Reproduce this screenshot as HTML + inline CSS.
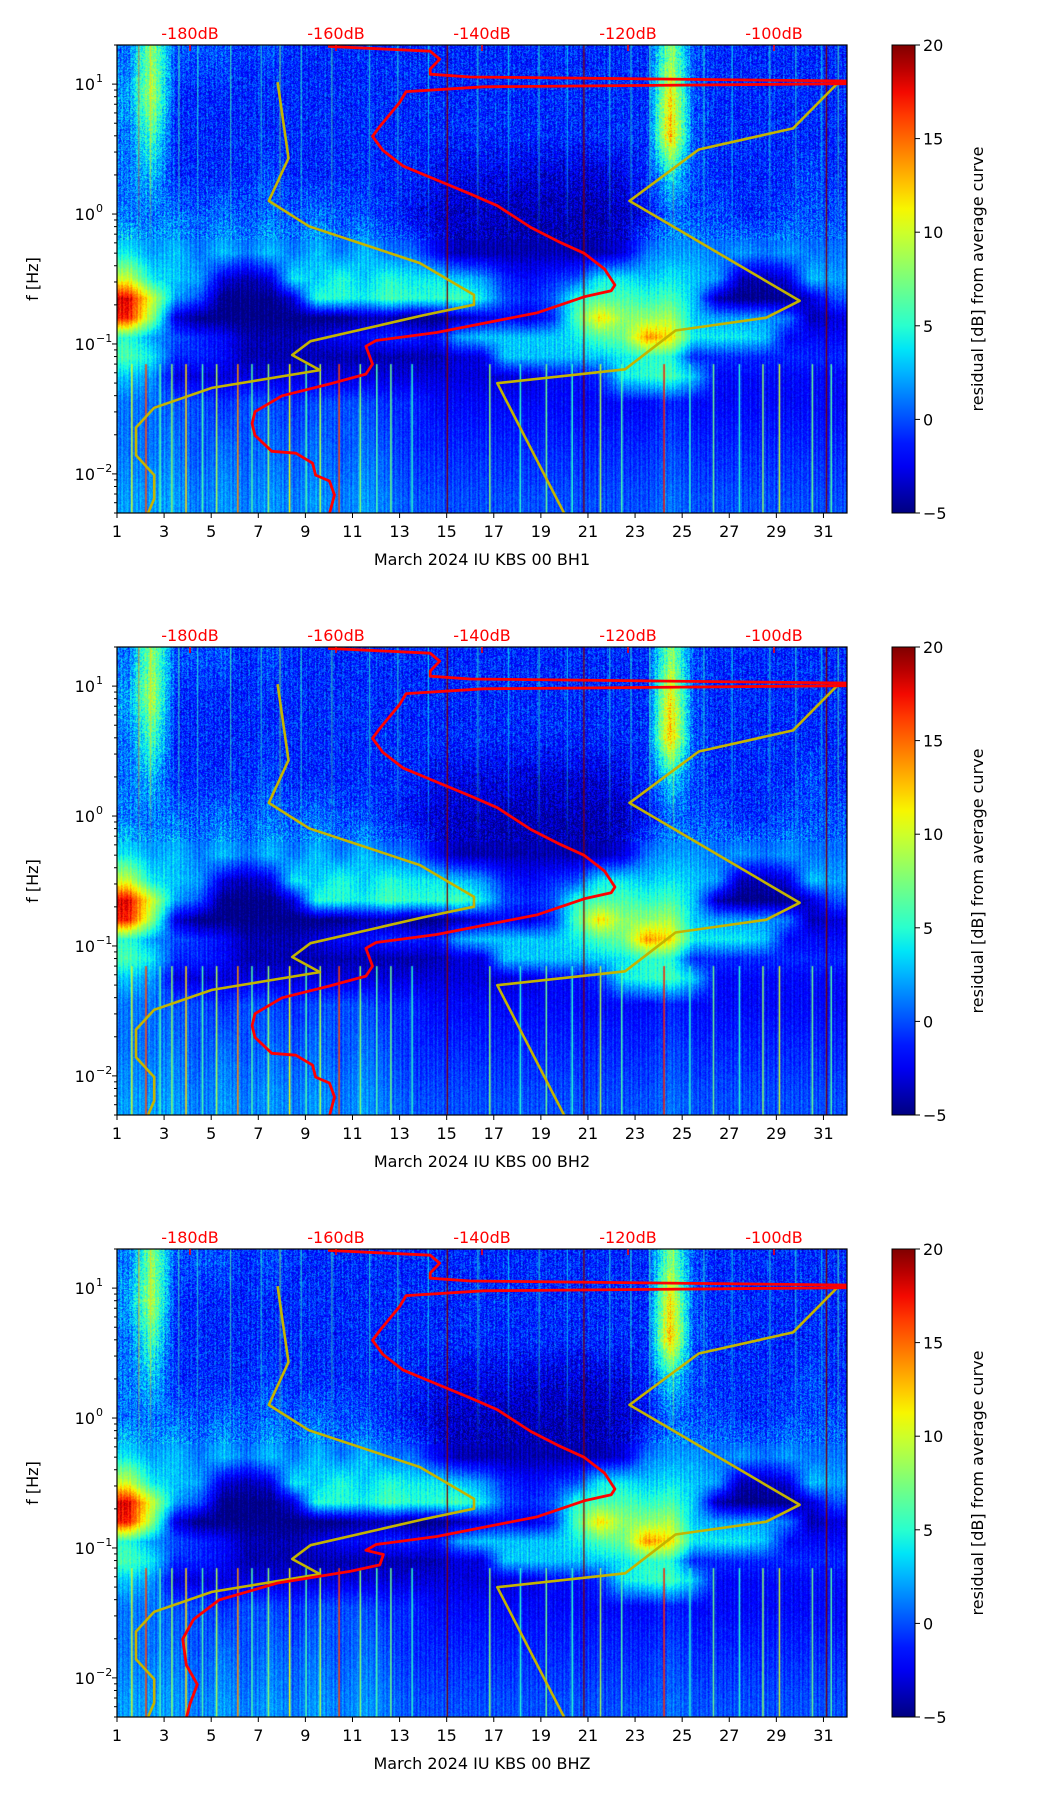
<!DOCTYPE html>
<html><head><meta charset="utf-8">
<style>
body{margin:0;background:#fff;width:1052px;height:1806px;overflow:hidden;position:relative;font-family:"DejaVu Sans","Liberation Sans",sans-serif;}
canvas{position:absolute;}
svg{position:absolute;left:0;top:0;}
</style></head>
<body>
<svg id="fig" width="1052" height="1806"></svg>
<script>
// ---- data ----
const panelTitles = ["March 2024 IU KBS 00 BH1","March 2024 IU KBS 00 BH2","March 2024 IU KBS 00 BHZ"];
const dayTicks = [1,3,5,7,9,11,13,15,17,19,21,23,25,27,29,31];
const dbTicks = [-180,-160,-140,-120,-100];
const cbTicks = [-5,0,5,10,15,20];
const yTickExp = [1,0,-1,-2];
// heatmap rows: log10(f) centers
const rowLogf = [1.2,0.9,0.6,0.3,0.0,-0.3,-0.5,-0.65,-0.8,-0.95,-1.1,-1.25,-1.45,-1.8,-2.2];
// residual dB values, day 1..31
const r0=[1,8,0,0,0,-1,0,-1,-1,-1,-1,-1,-1,-1,-1,-1,-1,-1,-1,-1,-1,-1,-1,8,0,-1,-1,-1,-1,-1,-1];
const r1=[2,9,-1,-1,-1,-1,-1,-1,-1,-1,-1,-1,-1,-1,-1,-1,-1,-1,-1,-1,-1,-1,-1,12,0,-1,-1,-1,-1,-1,-1];
const r2=[1,6,-1,-1,-1,-1,-1,-1,-1,-1,-1,-1,-1,-1,-1,-1,-1,-1,-1,-1,-1,-1,-1,13,0,-1,-1,-1,-1,-1,-1];
const r3=[1,3,-1,-1,-1,-1,0,-1,-1,-1,-1,-1,-1,-2,-2.5,-2.5,-2.5,-3,-3,-3,-3,-2.5,-1,4,0,-1,-1,-1,-1,0,-1];
const r4=[1,1,1,0,1,0,1,0,1,0,0,-1,-2,-3,-3.5,-3.5,-4,-4,-4,-4,-4,-3.5,-2,1,0,0,-1,-1,0,0,0];
const r5=[4,2,3,1,3,1,3,1,3,1,3,1,1,-2,-4,-4,-4,-4,-4,-4,-4,-3,1,2,2,1,2,1,2,1,1];
const r6=[10,4,3,2,-3,-4,-3,4,3,5,3,5,4,4,3,2,-1,-2,-1,0,4,4,3,4,3,2,-4,-4,-3,3,2];
const r7=[18,10,2,0,-5,-5,-5,-3,5,5,4,6,5,5,6,4,0,-1,0,5,6,6,5,6,3,-4,-5,-5,-5,-3,0];
const r8=[17,8,-3,-5,-5,-5,-5,-5,-5,-5,-4,-4,-5,-5,-4,-3,-2,-3,-1,6,12,8,8,9,3,2,2,2,1,-4,-3];
const r9=[5,2,0,-1,-2,-4,-4,-4,-3,-2,-2,-1,-1,-2,2,3,3,3,3,4,6,7,14,12,4,4,4,3,-2,-2,-2];
const r10=[6,4,-1,-1,-2,-4,-4,-4,-4,-4,-4,-4,-4,-4,-3,-3,3,3,3,3,3,4,5,5,-1,-1,-1,-1,-1,-1,-1];
const r11=[3,2,-3,-3,-3,-3,-3,-3,-3,-3,-3,-3,-3,-3,-3,-3,-3,-3,-2,-2,-1,4,5,6,3,-2,-2,-2,-2,-2,-2];
const r12=[1,1,0,0,-1,0,0,-1,0,0,0,-1,-1,-2,-2,-2,-2,-2,-2,-2,-2,-2,-2,-1,-2,-2,-2,-2,-2,-2,-2];
const r13=[1,1,1,0,1,0,1,0,1,0,1,0,-1,-1,-1,-1,-1,-1,-1,-1,-1,-1,-1,0,-1,-1,-1,-1,-1,-1,-1];
const r14=[2,2,2,1,2,1,2,1,2,1,2,1,0,0,0,0,0,0,0,0,0,0,0,1,0,0,0,0,0,0,0];
const grid=[r0,r1,r2,r3,r4,r5,r6,r7,r8,r9,r10,r11,r12,r13,r14];
// thin low-frequency streaks
const streakDays=[1.6,2.2,2.8,3.3,3.9,4.6,5.2,6.1,6.7,7.4,8.3,9.0,9.6,10.4,11.3,12.0,12.6,13.5,16.8,18.1,19.2,20.3,21.5,22.4,24.2,25.3,26.3,27.4,28.4,29.1,30.5,31.3];
const streakVals=[10,16,6,8,12,6,9,14,6,8,11,6,9,16,8,6,7,5,8,5,7,5,9,6,17,5,7,5,8,10,7,6];
// thin high-frequency streaks
const upperDays=[1.9,2.4,3.6,4.4,5.8,7.1,7.9,8.8,10.1,11.7,12.9,14.2,16.3,17.6,18.9,20.1,21.9,22.8,23.6,24.6,25.9,27.1,28.7,29.8,30.9,31.6];
const upperVals=[14,12,6,5,6,5,8,5,6,5,5,4,5,4,5,4,5,5,6,10,5,4,5,5,4,6];
const darkLineDays=[15.0,20.8,31.1];
// low noise model (dB, log10 f)
const nlnmDb=[-168.0,-166.5,-169.2,-163.7,-148.5,-141.1,-141.1,-148.1,-163.5,-166.0,-162.2,-177.0,-184.9,-187.4,-187.4,-184.9,-184.9,-185.8];
const nlnmLogf=[1.015,0.430,0.101,-0.094,-0.378,-0.622,-0.698,-0.780,-0.979,-1.085,-1.201,-1.338,-1.491,-1.643,-1.857,-2.009,-2.192,-2.308];
// high noise model
const nhnmDb=[-91.4,-97.4,-110.3,-119.8,-96.5,-101.1,-113.5,-120.4,-137.9,-128.7];
const nhnmLogf=[1.0,0.659,0.497,0.101,-0.668,-0.799,-0.896,-1.195,-1.302,-2.308];
// average curve (BH1/BH2)
const avgDb=[-161.1,-147.1,-145.8,-147.1,-147.1,-141.6,-90.06,-90.06,-139.8,-150.4,-151.3,-153.1,-154.0,-155.0,-153.6,-150.8,-146.2,-141.6,-137.9,-133.3,-129.6,-126.0,-123.2,-121.8,-122.3,-126.0,-132.4,-146.2,-154.5,-155.9,-155.0,-155.9,-160.9,-167.4,-171.1,-171.5,-171.1,-168.8,-165.5,-163.2,-162.8,-160.9,-160.2,-160.9];
const avgLogf=[1.290,1.253,1.192,1.116,1.076,1.055,1.024,1.003,0.979,0.942,0.857,0.735,0.674,0.598,0.491,0.369,0.262,0.155,0.064,-0.104,-0.210,-0.302,-0.424,-0.546,-0.591,-0.637,-0.759,-0.912,-0.973,-1.018,-1.155,-1.232,-1.308,-1.399,-1.521,-1.613,-1.704,-1.826,-1.841,-1.918,-2.009,-2.055,-2.162,-2.308];
// average curve (BHZ)
const avgZDb=[-161.1,-147.1,-145.8,-147.1,-147.1,-141.6,-90.06,-90.06,-139.8,-150.4,-151.3,-153.1,-154.0,-155.0,-153.6,-150.8,-146.2,-141.6,-137.9,-133.3,-129.6,-126.0,-123.2,-121.8,-122.3,-126.0,-132.4,-146.2,-154.5,-155.9,-153.5,-154.0,-158.0,-168.0,-176.0,-179.5,-181.0,-180.5,-179.0,-180.0,-180.5];
const avgZLogf=[1.290,1.253,1.192,1.116,1.076,1.055,1.024,1.003,0.979,0.942,0.857,0.735,0.674,0.598,0.491,0.369,0.262,0.155,0.064,-0.104,-0.210,-0.302,-0.424,-0.546,-0.591,-0.637,-0.759,-0.912,-0.973,-1.018,-1.05,-1.13,-1.18,-1.27,-1.4,-1.55,-1.7,-1.9,-2.05,-2.2,-2.31];

// ---- layout ----
const L=117,R=847,H=468,panelTops=[45,647,1249];
const W=R-L;
const LMAX=Math.log10(20),LMIN=Math.log10(0.005);
const dayX=d=>L+(d-1)/31*W;
const dbX=db=>L+(db+190)/100*W;
const yOf=(top,lf)=>top+(LMAX-lf)/(LMAX-LMIN)*H;
function lerp(pts,t){for(let i=0;i<pts.length-1;i++){if(t<=pts[i+1][0]){const a=pts[i],b=pts[i+1];const u=(t-a[0])/(b[0]-a[0]);return a[1]+u*(b[1]-a[1]);}}return pts[pts.length-1][1];}
const JR=[[0,0],[0.35,0],[0.66,1],[0.89,1],[1,0.5]];
const JG=[[0,0],[0.125,0],[0.375,1],[0.64,1],[0.91,0],[1,0]];
const JB=[[0,0.5],[0.11,1],[0.34,1],[0.65,0],[1,0]];
function jet(v){let t=(v+5)/25;t=Math.max(0,Math.min(1,t));return [lerp(JR,t)*255,lerp(JG,t)*255,lerp(JB,t)*255].map(Math.round);}
const NS="http://www.w3.org/2000/svg";
const svg=document.getElementById('fig');
function el(tag,attrs,parent){const e=document.createElementNS(NS,tag);for(const k in attrs)e.setAttribute(k,attrs[k]);(parent||svg).appendChild(e);return e;}

function sample(day,lf){
  let c=day-1.5;c=Math.max(0,Math.min(30,c));const c0=Math.floor(c),c1=Math.min(30,c0+1),cu=c-c0;
  let i=0;while(i<rowLogf.length-2&&lf<rowLogf[i+1])i++;
  let ru=(rowLogf[i]-lf)/(rowLogf[i]-rowLogf[i+1]);ru=Math.max(0,Math.min(1,ru));
  const a=grid[i][c0]*(1-cu)+grid[i][c1]*cu;
  const b=grid[i+1][c0]*(1-cu)+grid[i+1][c1]*cu;
  return a*(1-ru)+b*ru;
}
function hash(x,y){let h=(x*374761393+y*668265263)|0;h=(h^(h>>>13))*1274126177|0;return ((h^(h>>>16))>>>0)/4294967295;}

panelTops.forEach((top,p)=>{
  const cv=document.createElement('canvas');
  cv.width=W;cv.height=H;cv.style.left=L+'px';cv.style.top=top+'px';
  
  
  document.body.insertBefore(cv,svg);
  const ctx=cv.getContext('2d');
  const img=ctx.createImageData(W,H);
  for(let y=0;y<H;y++){const lf=LMAX-(y+0.5)/H*(LMAX-LMIN);
    const speck=lf>-0.2?2.2:0.8;
    for(let x=0;x<W;x++){const d=1+(x+0.5)/W*31;
      const tex=Math.sin(x*1.7+p)*Math.sin(x*0.37)*1.2+(hash(x,y+p*999)-0.5)*speck*2;
      const [r,g,b]=jet(sample(d,lf)+tex);const k=(y*W+x)*4;
      img.data[k]=r;img.data[k+1]=g;img.data[k+2]=b;img.data[k+3]=255;}}
  ctx.putImageData(img,0,0);
  streakDays.forEach((d,i)=>{const [r,g,b]=jet(streakVals[i]);ctx.fillStyle=`rgb(${r},${g},${b})`;
    const x=dayX(d)-L;const y0=yOf(0,Math.log10(0.07));ctx.fillRect(x,y0,1.5,H-y0);});
  const y1=yOf(0,Math.log10(0.5));
  upperDays.forEach((d,i)=>{const [r,g,b]=jet(upperVals[i]);
    const gr=ctx.createLinearGradient(0,0,0,y1);
    gr.addColorStop(0,`rgba(${r},${g},${b},0.75)`);gr.addColorStop(0.6,`rgba(${r},${g},${b},0.5)`);gr.addColorStop(1,`rgba(${r},${g},${b},0)`);
    ctx.fillStyle=gr;const x=dayX(d)-L;ctx.fillRect(x,0,1.2,y1);});
  darkLineDays.forEach(d=>{ctx.fillStyle='#800000';ctx.fillRect(dayX(d)-L,0,1.3,H);});

  const g=el('g',{});
  
  
  const clipId='clip'+p;
  const cp=el('clipPath',{id:clipId},g);el('rect',{x:L,y:top,width:W,height:H},cp);
  function poly(dbs,lfs,color,w,name){
    const pts=dbs.map((db,i)=>dbX(db).toFixed(1)+','+yOf(top,lfs[i]).toFixed(1)).join(' ');
    const pl=el('polyline',{points:pts,fill:'none',stroke:color,'stroke-width':w,'stroke-linejoin':'round','clip-path':`url(#${clipId})`},g);
    
    
  }
  poly(nlnmDb,nlnmLogf,'#c4b400',2.6,'nlnm-curve');
  poly(nhnmDb,nhnmLogf,'#c4b400',2.6,'nhnm-curve');
  if(p<2) poly(avgDb,avgLogf,'#ff0000',2.8,'average-curve'); else poly(avgZDb,avgZLogf,'#ff0000',2.8,'average-curve');
  const frame=el('rect',{x:L,y:top,width:W,height:H,fill:'none',stroke:'#000','stroke-width':1.2},g);
  
  
  dayTicks.forEach(d=>{const x=dayX(d);el('line',{x1:x,x2:x,y1:top+H,y2:top+H+5,stroke:'#000','stroke-width':1},g);
    const t=el('text',{x:x,y:top+H+24,'font-size':16,'text-anchor':'middle',fill:'#000'},g);t.textContent=d;
    
    });
  const xl=el('text',{x:(L+R)/2,y:top+H+52,'font-size':16,'text-anchor':'middle',fill:'#000'},g);xl.textContent=panelTitles[p];
  
  
  dbTicks.forEach(db=>{const x=dbX(db);el('line',{x1:x,x2:x,y1:top,y2:top+6,stroke:'#ff0000','stroke-width':1.5},g);
    const t=el('text',{x:x,y:top-6,'font-size':16,'text-anchor':'middle',fill:'#ff0000'},g);t.textContent=db+'dB';
    
    });
  for(let e=-3;e<=1;e++){for(let m=1;m<10;m++){const lf=e+Math.log10(m);if(lf<LMIN||lf>LMAX)continue;const y=yOf(top,lf);
    el('line',{x1:L,x2:L-(m==1?5:3),y1:y,y2:y,stroke:'#000','stroke-width':1},g);}}
  yTickExp.forEach(e=>{const y=yOf(top,e);const t=el('text',{x:L-22,y:y+6,'font-size':16,'text-anchor':'end',fill:'#000'},g);t.textContent='10';
    
    
    const s=el('text',{x:L-21,y:y-2,'font-size':11,'text-anchor':'start',fill:'#000'},g);s.textContent=(e<0?'\u2212':'')+Math.abs(e);});
  const yl=el('text',{x:0,y:0,'font-size':16,'text-anchor':'middle',fill:'#000',transform:`translate(38,${top+H/2}) rotate(-90)`},g);yl.textContent='f [Hz]';
  
  
  const gid='cbg'+p;const lg=el('linearGradient',{id:gid,x1:0,y1:1,x2:0,y2:0},g);
  for(let i=0;i<=20;i++){const v=-5+25*i/20;const [r,gg,b]=jet(v);el('stop',{offset:i/20,'stop-color':`rgb(${r},${gg},${b})`},lg);}
  const cb=el('rect',{x:892,y:top,width:23,height:H,fill:`url(#${gid})`,stroke:'#000','stroke-width':1},g);
  
  
  cbTicks.forEach(v=>{const y=top+H-(v+5)/25*H;el('line',{x1:915,x2:920,y1:y,y2:y,stroke:'#000'},g);
    const t=el('text',{x:923,y:y+6,'font-size':16,fill:'#000'},g);t.textContent=v<0?'\u2212'+Math.abs(v):v;
    
    });
  const cl=el('text',{x:0,y:0,'font-size':16,'text-anchor':'middle',fill:'#000',transform:`translate(983,${top+H/2}) rotate(-90)`},g);cl.textContent='residual [dB] from average curve';
  
  
});
</script>
</body></html>
